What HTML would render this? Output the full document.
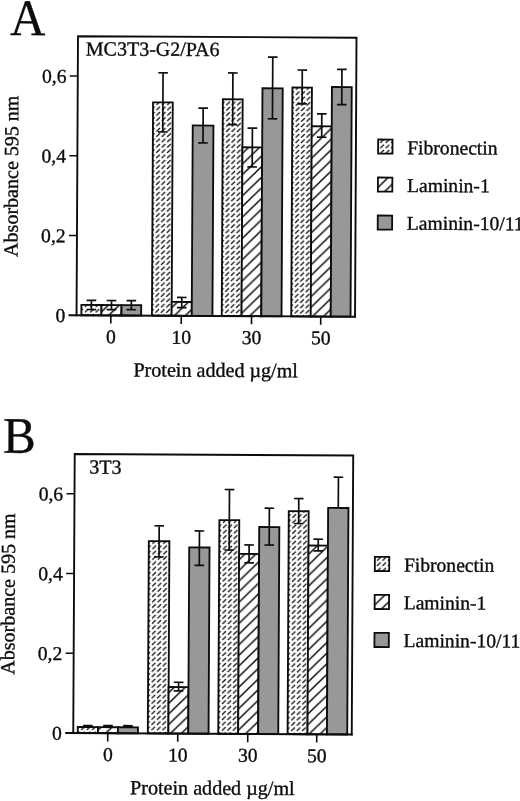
<!DOCTYPE html>
<html><head><meta charset="utf-8"><title>Figure</title>
<style>html,body{margin:0;padding:0;background:#fff}svg{display:block;filter:grayscale(1)}text{font-family:"Liberation Serif", serif;font-size:19.6px;fill:#0c0c0c;stroke:#0c0c0c;stroke-width:0.35px;stroke-linejoin:round}</style></head><body>
<svg width="520" height="801" viewBox="0 0 520 801">
<defs>
<pattern id="pfibA0" patternUnits="userSpaceOnUse" width="5.44" height="5.33" x="83.43" y="282.20"><path d="M0.92 4.46L4.52 0.86" stroke="#0c0c0c" stroke-width="1.3"/></pattern>
<pattern id="pfibB0" patternUnits="userSpaceOnUse" width="5.44" height="5.33" x="82.23" y="699.74"><path d="M0.92 4.46L4.52 0.86" stroke="#0c0c0c" stroke-width="1.3"/></pattern>
<pattern id="pfibA1" patternUnits="userSpaceOnUse" width="5.44" height="5.33" x="154.03" y="282.20"><path d="M0.92 4.46L4.52 0.86" stroke="#0c0c0c" stroke-width="1.3"/></pattern>
<pattern id="pfibB1" patternUnits="userSpaceOnUse" width="5.44" height="5.33" x="152.28" y="699.74"><path d="M0.92 4.46L4.52 0.86" stroke="#0c0c0c" stroke-width="1.3"/></pattern>
<pattern id="pfibA2" patternUnits="userSpaceOnUse" width="5.44" height="5.33" x="223.83" y="282.20"><path d="M0.92 4.46L4.52 0.86" stroke="#0c0c0c" stroke-width="1.3"/></pattern>
<pattern id="pfibB2" patternUnits="userSpaceOnUse" width="5.44" height="5.33" x="222.73" y="699.74"><path d="M0.92 4.46L4.52 0.86" stroke="#0c0c0c" stroke-width="1.3"/></pattern>
<pattern id="pfibA3" patternUnits="userSpaceOnUse" width="5.44" height="5.33" x="293.33" y="282.20"><path d="M0.92 4.46L4.52 0.86" stroke="#0c0c0c" stroke-width="1.3"/></pattern>
<pattern id="pfibB3" patternUnits="userSpaceOnUse" width="5.44" height="5.33" x="292.08" y="699.74"><path d="M0.92 4.46L4.52 0.86" stroke="#0c0c0c" stroke-width="1.3"/></pattern>
<pattern id="pfibAL" patternUnits="userSpaceOnUse" width="5.44" height="5.33" x="378.07" y="143.12"><path d="M0.92 4.46L4.52 0.86" stroke="#0c0c0c" stroke-width="1.3"/></pattern>
<pattern id="pfibBL" patternUnits="userSpaceOnUse" width="5.44" height="5.33" x="376.97" y="560.93"><path d="M0.92 4.46L4.52 0.86" stroke="#0c0c0c" stroke-width="1.3"/></pattern>
<pattern id="plamA0" patternUnits="userSpaceOnUse" width="10.878" height="10.66" x="101.90" y="301.14"><path d="M-10.878 21.32L21.756 -10.66M-10.878 10.66L10.878 -10.66M0 21.32L21.756 0" stroke="#0c0c0c" stroke-width="1.5"/></pattern>
<pattern id="plamA1" patternUnits="userSpaceOnUse" width="10.878" height="10.66" x="172.00" y="296.70"><path d="M-10.878 21.32L21.756 -10.66M-10.878 10.66L10.878 -10.66M0 21.32L21.756 0" stroke="#0c0c0c" stroke-width="1.5"/></pattern>
<pattern id="plamA2" patternUnits="userSpaceOnUse" width="10.878" height="10.66" x="241.98" y="291.23"><path d="M-10.878 21.32L21.756 -10.66M-10.878 10.66L10.878 -10.66M0 21.32L21.756 0" stroke="#0c0c0c" stroke-width="1.5"/></pattern>
<pattern id="plamA3" patternUnits="userSpaceOnUse" width="10.878" height="10.66" x="310.95" y="285.27"><path d="M-10.878 21.32L21.756 -10.66M-10.878 10.66L10.878 -10.66M0 21.32L21.756 0" stroke="#0c0c0c" stroke-width="1.5"/></pattern>
<pattern id="plamAL" patternUnits="userSpaceOnUse" width="10.878" height="10.66" x="377.53" y="175.47"><path d="M-10.878 21.32L21.756 -10.66M-10.878 10.66L10.878 -10.66M0 21.32L21.756 0" stroke="#0c0c0c" stroke-width="1.5"/></pattern>
<pattern id="plamB0" patternUnits="userSpaceOnUse" width="10.878" height="10.66" x="100.60" y="719.44"><path d="M-10.878 21.32L21.756 -10.66M-10.878 10.66L10.878 -10.66M0 21.32L21.756 0" stroke="#0c0c0c" stroke-width="1.5"/></pattern>
<pattern id="plamB1" patternUnits="userSpaceOnUse" width="10.878" height="10.66" x="170.59" y="714.12"><path d="M-10.878 21.32L21.756 -10.66M-10.878 10.66L10.878 -10.66M0 21.32L21.756 0" stroke="#0c0c0c" stroke-width="1.5"/></pattern>
<pattern id="plamB2" patternUnits="userSpaceOnUse" width="10.878" height="10.66" x="240.57" y="708.45"><path d="M-10.878 21.32L21.756 -10.66M-10.878 10.66L10.878 -10.66M0 21.32L21.756 0" stroke="#0c0c0c" stroke-width="1.5"/></pattern>
<pattern id="plamB3" patternUnits="userSpaceOnUse" width="10.878" height="10.66" x="309.59" y="713.69"><path d="M-10.878 21.32L21.756 -10.66M-10.878 10.66L10.878 -10.66M0 21.32L21.756 0" stroke="#0c0c0c" stroke-width="1.5"/></pattern>
<pattern id="plamBL" patternUnits="userSpaceOnUse" width="10.878" height="10.66" x="376.27" y="593.21"><path d="M-10.878 21.32L21.756 -10.66M-10.878 10.66L10.878 -10.66M0 21.32L21.756 0" stroke="#0c0c0c" stroke-width="1.5"/></pattern>
</defs>
<rect width="520" height="801" fill="#fff"/>
<g transform="rotate(0.3 260 400)">
<g id="panelA">
<rect x="80.90" y="305.80" width="20.10" height="10.40" fill="#fff"/>
<rect x="80.90" y="305.80" width="20.10" height="10.40" fill="url(#pfibA0)" stroke="#0c0c0c" stroke-width="1.85"/>
<rect x="101.00" y="305.80" width="20.00" height="10.40" fill="#fff"/>
<rect x="101.00" y="305.80" width="20.00" height="10.40" fill="url(#plamA0)" stroke="#0c0c0c" stroke-width="1.85"/>
<rect x="121.00" y="305.80" width="19.70" height="10.40" fill="#fff"/>
<rect x="121.00" y="305.80" width="19.70" height="10.40" fill="#989898" stroke="#0c0c0c" stroke-width="1.85"/>
<rect x="151.50" y="102.90" width="19.70" height="213.30" fill="#fff"/>
<rect x="151.50" y="102.90" width="19.70" height="213.30" fill="url(#pfibA1)" stroke="#0c0c0c" stroke-width="1.85"/>
<rect x="171.20" y="302.40" width="20.10" height="13.80" fill="#fff"/>
<rect x="171.20" y="302.40" width="20.10" height="13.80" fill="url(#plamA1)" stroke="#0c0c0c" stroke-width="1.85"/>
<rect x="191.30" y="125.80" width="20.70" height="190.40" fill="#fff"/>
<rect x="191.30" y="125.80" width="20.70" height="190.40" fill="#989898" stroke="#0c0c0c" stroke-width="1.85"/>
<rect x="221.30" y="99.50" width="19.80" height="216.70" fill="#fff"/>
<rect x="221.30" y="99.50" width="19.80" height="216.70" fill="url(#pfibA2)" stroke="#0c0c0c" stroke-width="1.85"/>
<rect x="241.10" y="147.40" width="19.75" height="168.80" fill="#fff"/>
<rect x="241.10" y="147.40" width="19.75" height="168.80" fill="url(#plamA2)" stroke="#0c0c0c" stroke-width="1.85"/>
<rect x="260.85" y="88.20" width="20.25" height="228.00" fill="#fff"/>
<rect x="260.85" y="88.20" width="20.25" height="228.00" fill="#989898" stroke="#0c0c0c" stroke-width="1.85"/>
<rect x="290.80" y="87.30" width="19.50" height="228.90" fill="#fff"/>
<rect x="290.80" y="87.30" width="19.50" height="228.90" fill="url(#pfibA3)" stroke="#0c0c0c" stroke-width="1.85"/>
<rect x="310.30" y="126.00" width="20.00" height="190.20" fill="#fff"/>
<rect x="310.30" y="126.00" width="20.00" height="190.20" fill="url(#plamA3)" stroke="#0c0c0c" stroke-width="1.85"/>
<rect x="330.30" y="86.60" width="19.80" height="229.60" fill="#fff"/>
<rect x="330.30" y="86.60" width="19.80" height="229.60" fill="#989898" stroke="#0c0c0c" stroke-width="1.85"/>
<path d="M86.15 301.30H95.75M86.15 310.40H95.75M90.95 301.30V310.40" stroke="#0c0c0c" stroke-width="1.7" fill="none"/>
<path d="M106.20 301.30H115.80M106.20 310.40H115.80M111.00 301.30V310.40" stroke="#0c0c0c" stroke-width="1.7" fill="none"/>
<path d="M126.05 301.30H135.65M126.05 310.40H135.65M130.85 301.30V310.40" stroke="#0c0c0c" stroke-width="1.7" fill="none"/>
<path d="M156.55 73.30H166.15M156.55 132.50H166.15M161.35 73.30V132.50" stroke="#0c0c0c" stroke-width="1.7" fill="none"/>
<path d="M176.45 297.90H186.05M176.45 308.00H186.05M181.25 297.90V308.00" stroke="#0c0c0c" stroke-width="1.7" fill="none"/>
<path d="M196.85 108.50H206.45M196.85 143.30H206.45M201.65 108.50V143.30" stroke="#0c0c0c" stroke-width="1.7" fill="none"/>
<path d="M226.40 73.10H236.00M226.40 124.70H236.00M231.20 73.10V124.70" stroke="#0c0c0c" stroke-width="1.7" fill="none"/>
<path d="M246.18 128.20H255.78M246.18 167.00H255.78M250.98 128.20V167.00" stroke="#0c0c0c" stroke-width="1.7" fill="none"/>
<path d="M266.18 57.10H275.78M266.18 118.70H275.78M270.98 57.10V118.70" stroke="#0c0c0c" stroke-width="1.7" fill="none"/>
<path d="M295.75 69.80H305.35M295.75 103.60H305.35M300.55 69.80V103.60" stroke="#0c0c0c" stroke-width="1.7" fill="none"/>
<path d="M315.50 113.50H325.10M315.50 136.90H325.10M320.30 113.50V136.90" stroke="#0c0c0c" stroke-width="1.7" fill="none"/>
<path d="M335.40 68.90H345.00M335.40 104.20H345.00M340.20 68.90V104.20" stroke="#0c0c0c" stroke-width="1.7" fill="none"/>
<path d="M76.10 317.10V37.20H354.60V317.10" fill="none" stroke="#0c0c0c" stroke-width="1.9" stroke-linejoin="miter"/>
<path d="M68.10 316.20H355.55" fill="none" stroke="#0c0c0c" stroke-width="1.9"/>
<text x="64.80" y="323.10" text-anchor="end">0</text>
<path d="M68.10 236.45H76.10" stroke="#0c0c0c" stroke-width="1.6"/>
<text x="64.80" y="243.35" text-anchor="end">0,2</text>
<path d="M68.10 156.70H76.10" stroke="#0c0c0c" stroke-width="1.6"/>
<text x="64.80" y="163.60" text-anchor="end">0,4</text>
<path d="M68.10 76.95H76.10" stroke="#0c0c0c" stroke-width="1.6"/>
<text x="64.80" y="83.85" text-anchor="end">0,6</text>
<path d="M110.40 316.20V324.40" stroke="#0c0c0c" stroke-width="1.6"/>
<text x="110.60" y="344.10" text-anchor="middle">0</text>
<path d="M180.80 316.20V324.40" stroke="#0c0c0c" stroke-width="1.6"/>
<text x="181.00" y="344.10" text-anchor="middle">10</text>
<path d="M251.10 316.20V324.40" stroke="#0c0c0c" stroke-width="1.6"/>
<text x="251.30" y="344.10" text-anchor="middle">30</text>
<path d="M320.30 316.20V324.40" stroke="#0c0c0c" stroke-width="1.6"/>
<text x="320.50" y="344.10" text-anchor="middle">50</text>
<text x="133.30" y="377.05" style="font-size:20.1px">Protein added µg/ml</text>
<text transform="translate(16.80 177.50) rotate(-90)" text-anchor="middle" style="font-size:20.05px">Absorbance 595 nm</text>
<text x="84.00" y="56.30" style="font-size:20px">MC3T3-G2/PA6</text>
<text transform="translate(8.00 36.40) scale(0.955 1)" style="font-size:51.3px;stroke-width:0.3px">A</text>
<rect x="376.80" y="138.90" width="14.4" height="14.1" fill="#fff"/>
<rect x="376.80" y="138.90" width="14.4" height="14.1" fill="url(#pfibAL)" stroke="#0c0c0c" stroke-width="1.8"/>
<text x="405.90" y="153.40">Fibronectin</text>
<rect x="376.80" y="176.90" width="14.4" height="14.1" fill="#fff"/>
<rect x="376.80" y="176.90" width="14.4" height="14.1" fill="url(#plamAL)" stroke="#0c0c0c" stroke-width="1.8"/>
<text x="405.90" y="191.15">Laminin-1</text>
<rect x="376.80" y="214.90" width="14.4" height="14.1" fill="#fff"/>
<rect x="376.80" y="214.90" width="14.4" height="14.1" fill="#989898" stroke="#0c0c0c" stroke-width="1.8"/>
<text x="405.90" y="228.90">Laminin-10/11</text>
</g>
<g id="panelB">
<rect x="79.50" y="728.00" width="20.20" height="6.00" fill="#fff"/>
<rect x="79.50" y="728.00" width="20.20" height="6.00" fill="url(#pfibB0)" stroke="#0c0c0c" stroke-width="1.85"/>
<rect x="99.70" y="728.00" width="20.00" height="6.00" fill="#fff"/>
<rect x="99.70" y="728.00" width="20.00" height="6.00" fill="url(#plamB0)" stroke="#0c0c0c" stroke-width="1.85"/>
<rect x="119.70" y="728.00" width="20.00" height="6.00" fill="#fff"/>
<rect x="119.70" y="728.00" width="20.00" height="6.00" fill="#989898" stroke="#0c0c0c" stroke-width="1.85"/>
<rect x="149.55" y="541.70" width="20.60" height="192.30" fill="#fff"/>
<rect x="149.55" y="541.70" width="20.60" height="192.30" fill="url(#pfibB1)" stroke="#0c0c0c" stroke-width="1.85"/>
<rect x="170.15" y="687.50" width="19.85" height="46.50" fill="#fff"/>
<rect x="170.15" y="687.50" width="19.85" height="46.50" fill="url(#plamB1)" stroke="#0c0c0c" stroke-width="1.85"/>
<rect x="190.00" y="547.80" width="20.30" height="186.20" fill="#fff"/>
<rect x="190.00" y="547.80" width="20.30" height="186.20" fill="#989898" stroke="#0c0c0c" stroke-width="1.85"/>
<rect x="220.00" y="520.30" width="19.90" height="213.70" fill="#fff"/>
<rect x="220.00" y="520.30" width="19.90" height="213.70" fill="url(#pfibB2)" stroke="#0c0c0c" stroke-width="1.85"/>
<rect x="239.90" y="554.05" width="20.00" height="179.95" fill="#fff"/>
<rect x="239.90" y="554.05" width="20.00" height="179.95" fill="url(#plamB2)" stroke="#0c0c0c" stroke-width="1.85"/>
<rect x="259.90" y="526.95" width="20.10" height="207.05" fill="#fff"/>
<rect x="259.90" y="526.95" width="20.10" height="207.05" fill="#989898" stroke="#0c0c0c" stroke-width="1.85"/>
<rect x="289.35" y="511.00" width="19.90" height="223.00" fill="#fff"/>
<rect x="289.35" y="511.00" width="19.90" height="223.00" fill="url(#pfibB3)" stroke="#0c0c0c" stroke-width="1.85"/>
<rect x="309.25" y="545.20" width="19.45" height="188.80" fill="#fff"/>
<rect x="309.25" y="545.20" width="19.45" height="188.80" fill="url(#plamB3)" stroke="#0c0c0c" stroke-width="1.85"/>
<rect x="328.70" y="507.50" width="20.30" height="226.50" fill="#fff"/>
<rect x="328.70" y="507.50" width="20.30" height="226.50" fill="#989898" stroke="#0c0c0c" stroke-width="1.85"/>
<path d="M84.80 726.40H94.40M84.80 727.40H94.40M89.60 726.40V727.40" stroke="#0c0c0c" stroke-width="1.7" fill="none"/>
<path d="M104.90 726.40H114.50M104.90 727.40H114.50M109.70 726.40V727.40" stroke="#0c0c0c" stroke-width="1.7" fill="none"/>
<path d="M124.90 726.40H134.50M124.90 727.40H134.50M129.70 726.40V727.40" stroke="#0c0c0c" stroke-width="1.7" fill="none"/>
<path d="M155.05 526.30H164.65M155.05 557.50H164.65M159.85 526.30V557.50" stroke="#0c0c0c" stroke-width="1.7" fill="none"/>
<path d="M175.27 682.70H184.88M175.27 691.40H184.88M180.07 682.70V691.40" stroke="#0c0c0c" stroke-width="1.7" fill="none"/>
<path d="M195.35 531.30H204.95M195.35 565.70H204.95M200.15 531.30V565.70" stroke="#0c0c0c" stroke-width="1.7" fill="none"/>
<path d="M225.15 489.70H234.75M225.15 550.20H234.75M229.95 489.70V550.20" stroke="#0c0c0c" stroke-width="1.7" fill="none"/>
<path d="M245.10 545.05H254.70M245.10 562.85H254.70M249.90 545.05V562.85" stroke="#0c0c0c" stroke-width="1.7" fill="none"/>
<path d="M265.15 508.15H274.75M265.15 544.95H274.75M269.95 508.15V544.95" stroke="#0c0c0c" stroke-width="1.7" fill="none"/>
<path d="M294.50 498.30H304.10M294.50 523.30H304.10M299.30 498.30V523.30" stroke="#0c0c0c" stroke-width="1.7" fill="none"/>
<path d="M314.18 538.90H323.78M314.18 550.50H323.78M318.98 538.90V550.50" stroke="#0c0c0c" stroke-width="1.7" fill="none"/>
<path d="M334.05 476.80H343.65M338.85 476.80V507.50" stroke="#0c0c0c" stroke-width="1.7" fill="none"/>
<path d="M75.00 734.90V455.00H353.50V734.90" fill="none" stroke="#0c0c0c" stroke-width="1.9" stroke-linejoin="miter"/>
<path d="M67.00 734.00H354.45" fill="none" stroke="#0c0c0c" stroke-width="1.9"/>
<text x="63.70" y="740.90" text-anchor="end">0</text>
<path d="M67.00 654.25H75.00" stroke="#0c0c0c" stroke-width="1.6"/>
<text x="63.70" y="661.15" text-anchor="end">0,2</text>
<path d="M67.00 574.50H75.00" stroke="#0c0c0c" stroke-width="1.6"/>
<text x="63.70" y="581.40" text-anchor="end">0,4</text>
<path d="M67.00 494.75H75.00" stroke="#0c0c0c" stroke-width="1.6"/>
<text x="63.70" y="501.65" text-anchor="end">0,6</text>
<path d="M109.50 734.00V742.20" stroke="#0c0c0c" stroke-width="1.6"/>
<text x="109.70" y="761.90" text-anchor="middle">0</text>
<path d="M179.50 734.00V742.20" stroke="#0c0c0c" stroke-width="1.6"/>
<text x="179.70" y="761.90" text-anchor="middle">10</text>
<path d="M249.50 734.00V742.20" stroke="#0c0c0c" stroke-width="1.6"/>
<text x="249.70" y="761.90" text-anchor="middle">30</text>
<path d="M318.50 734.00V742.20" stroke="#0c0c0c" stroke-width="1.6"/>
<text x="318.70" y="761.90" text-anchor="middle">50</text>
<text x="132.20" y="794.85" style="font-size:20.1px">Protein added µg/ml</text>
<text transform="translate(15.70 595.30) rotate(-90)" text-anchor="middle" style="font-size:20.05px">Absorbance 595 nm</text>
<text x="89.70" y="474.50" style="font-size:20px">3T3</text>
<text transform="translate(3.30 454.20) scale(0.955 1)" style="font-size:51.3px;stroke-width:0.3px">B</text>
<rect x="375.70" y="556.30" width="14.4" height="14.1" fill="#fff"/>
<rect x="375.70" y="556.30" width="14.4" height="14.1" fill="url(#pfibBL)" stroke="#0c0c0c" stroke-width="1.8"/>
<text x="404.80" y="570.70">Fibronectin</text>
<rect x="375.70" y="594.30" width="14.4" height="14.1" fill="#fff"/>
<rect x="375.70" y="594.30" width="14.4" height="14.1" fill="url(#plamBL)" stroke="#0c0c0c" stroke-width="1.8"/>
<text x="404.80" y="608.45">Laminin-1</text>
<rect x="375.70" y="632.30" width="14.4" height="14.1" fill="#fff"/>
<rect x="375.70" y="632.30" width="14.4" height="14.1" fill="#989898" stroke="#0c0c0c" stroke-width="1.8"/>
<text x="404.80" y="646.20">Laminin-10/11</text>
</g>
</g></svg></body></html>
